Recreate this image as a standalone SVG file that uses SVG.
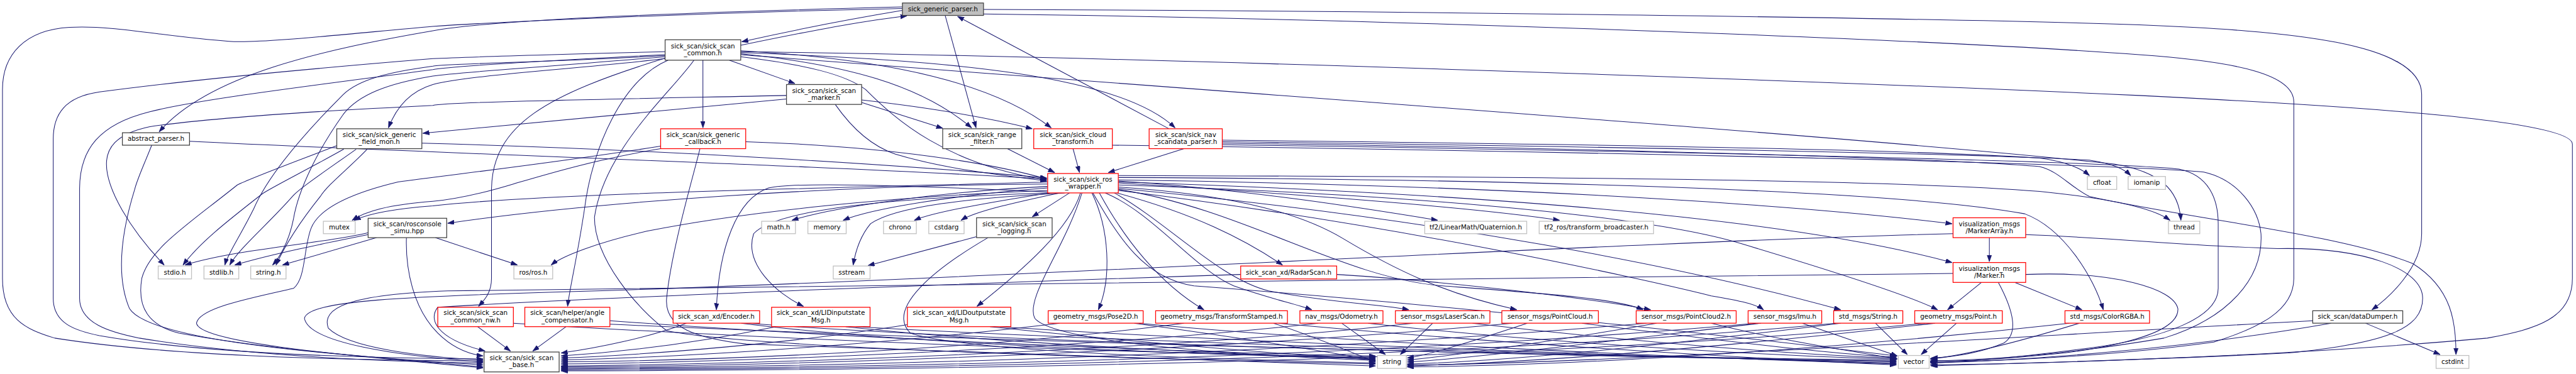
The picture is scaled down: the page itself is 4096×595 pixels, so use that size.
<svg xmlns="http://www.w3.org/2000/svg" width="4096" height="595" viewBox="0 0 4096 595">
<defs>
<style>
.e{fill:none;stroke:#191970;stroke-width:1.3;marker-end:url(#a)}
.k{fill:#fff;stroke:#404040;stroke-width:1.6}
.r{fill:#fff;stroke:#ff0000;stroke-width:1.6}
.g{fill:#fff;stroke:#bfbfbf;stroke-width:1.6}
.p{fill:#bfbfbf;stroke:#404040;stroke-width:1.6}
text{font-family:"DejaVu Sans",sans-serif;font-size:13.1px;text-anchor:middle;fill:#000}
</style>
<marker id="a" markerWidth="14" markerHeight="10" refX="13" refY="4.5" orient="auto" markerUnits="userSpaceOnUse"><path d="M0,0 L13,4.5 L0,9 z" fill="#191970" stroke="#191970" stroke-width="1"/></marker>
</defs>
<rect width="4096" height="595" fill="#fff"/>
<g transform="scale(0.791)">
<g id="connectors">
<path class="e" d="M1814,21 C1700,40 1580,64 1491,84"/>
<path class="e" d="M1489,91 C1600,68 1720,44 1823,32"/>
<path class="e" d="M1814,14 C1400,24 1000,38 870,62 C650,100 420,150 320,265"/>
<path class="e" d="M1814,17 C1400,26 1000,44 870,53 C700,68 520,88 460,83 C330,74 230,50 140,55 C50,60 5,110 5,180 L5,560 C5,640 50,662 110,680 C350,718 700,724 971,726"/>
<path class="e" d="M1900,31 L1962,257"/>
<path class="e" d="M2350,259 L1925,33"/>
<path class="e" d="M1977,19 C2800,22 3900,36 4300,50 C4600,62 4868,85 4868,190 L4868,470 C4868,540 4800,600 4768,623"/>
<path class="e" d="M1977,28 C2800,38 3900,80 4300,110 C4500,124 4611,150 4611,205 L4611,560 C4611,625 4540,660 4450,688 C4250,716 4000,728 3880,728"/>
<path class="e" d="M1489,104 C2200,112 3600,160 4300,192 C4700,212 5171,240 5171,290 L5171,560 C5171,640 5100,662 5000,680 C4600,716 4100,732 3880,734"/>
<path class="e" d="M1413,121 L1413,257"/>
<path class="e" d="M1466,121 L1598,168"/>
<path class="e" d="M1337,118 C1150,140 950,150 870,170 C820,185 795,220 781,257"/>
<path class="e" d="M1337,104 C1100,110 950,114 870,118 C600,140 350,165 200,185 C130,195 107,230 107,280 L107,600 C107,650 150,665 200,675 C400,710 700,720 971,722"/>
<path class="e" d="M1337,110 C1100,122 900,134 870,140 C600,176 400,200 300,225 C200,250 160,300 160,380 L160,600 C160,650 220,668 280,680 C500,716 750,727 971,730"/>
<path class="e" d="M1337,112 C1100,125 900,128 870,133 C780,145 721,160 690,190 C620,260 540,350 510,420 C480,480 458,510 452,533"/>
<path class="e" d="M1337,114 C1100,135 920,145 870,153 C780,168 721,190 690,230 C640,300 600,380 590,440 C580,490 560,520 548,533"/>
<path class="e" d="M1337,117 C1100,190 990,250 988,380 L988,560 C988,590 972,605 962,616"/>
<path class="e" d="M1343,121 C1250,160 1190,300 1175,420 C1160,520 1145,580 1141,616"/>
<path class="e" d="M1489,108 C1700,130 1850,170 1953,257"/>
<path class="e" d="M1489,102 C1800,120 2000,170 2113,257"/>
<path class="e" d="M1489,106 C1900,120 2250,150 2362,257"/>
<path class="e" d="M1489,114 C1620,130 1700,150 1740,180 C1800,240 1900,330 2104,362"/>
<path class="e" d="M1395,121 C1348,187 1215,300 1195,437 C1195,520 1280,620 1340,665 C1500,700 2300,722 2765,732"/>
<path class="e" d="M1489,110 C2400,180 3800,280 4250,330 C4340,345 4380,380 4384,443"/>
<path class="e" d="M1581,199 L850,268"/>
<path class="e" d="M1581,192 C1200,200 900,205 870,212 C600,225 400,240 300,255 C230,270 214,300 214,330 C214,380 260,460 330,533"/>
<path class="e" d="M1732,206 L1895,258"/>
<path class="e" d="M1732,201 C1900,220 2000,240 2075,259"/>
<path class="e" d="M1679,210 C1700,240 1740,290 1800,310 C1900,340 2000,350 2104,364"/>
<path class="e" d="M381,284 C900,310 1600,330 2104,360"/>
<path class="e" d="M305,292 C290,330 276,360 271,380 C240,480 235,560 260,620 C290,670 500,705 971,734"/>
<path class="e" d="M848,288 C1300,300 1800,330 2104,358"/>
<path class="e" d="M677,293 C580,330 500,360 477,372 C380,450 300,500 285,560 C275,620 300,655 360,670 C550,705 800,722 971,738"/>
<path class="e" d="M691,300 C620,340 540,380 527,390 C450,450 400,490 368,533"/>
<path class="e" d="M716,300 C660,340 600,380 588,395 C540,450 480,500 462,533"/>
<path class="e" d="M738,300 C700,340 660,370 644,395 C600,450 570,500 555,533"/>
<path class="e" d="M1499,285 C1800,295 2000,330 2104,360"/>
<path class="e" d="M1328,299 C1200,320 1100,350 1032,370 C950,395 900,402 870,405 C780,412 735,425 708,443"/>
<path class="e" d="M1328,294 C1100,330 900,352 800,366 C700,390 640,420 625,460 C610,500 615,560 590,580 C500,600 400,620 395,650 C400,690 700,715 971,740"/>
<path class="e" d="M1407,299 C1395,350 1350,500 1340,600 C1335,660 1400,680 1500,692 C2000,712 2500,724 2765,736"/>
<path class="e" d="M740,468 C650,490 480,500 372,533"/>
<path class="e" d="M740,472 C650,490 550,510 472,533"/>
<path class="e" d="M757,478 L568,533"/>
<path class="e" d="M875,478 L1040,533"/>
<path class="e" d="M817,478 C815,540 830,620 880,670 C910,700 940,712 971,716"/>
<path class="e" d="M2106,366 C1700,378 1100,388 870,414 C790,420 740,430 712,443"/>
<path class="e" d="M2106,370 C1700,372 1200,405 900,449"/>
<path class="e" d="M2106,375 C1900,385 1680,415 1592,443"/>
<path class="e" d="M2106,378 C1920,392 1750,420 1695,443"/>
<path class="e" d="M2110,388 C2000,405 1880,425 1838,443"/>
<path class="e" d="M2130,388 C2050,405 1960,425 1932,443"/>
<path class="e" d="M2150,388 L2075,436"/>
<path class="e" d="M2140,388 C1950,398 1800,415 1750,450 C1725,480 1718,515 1715,533"/>
<path class="e" d="M1963,476 L1745,534"/>
<path class="e" d="M2106,383 C1800,395 1500,425 1300,465 C1200,488 1130,515 1108,533"/>
<path class="e" d="M2106,386 C1800,372 1600,366 1545,378 C1480,400 1445,500 1440,623"/>
<path class="e" d="M2106,388 C1800,398 1560,420 1515,470 C1495,530 1560,590 1615,616"/>
<path class="e" d="M2172,388 C2150,460 2060,540 1964,616"/>
<path class="e" d="M2195,388 C2230,460 2235,560 2208,623"/>
<path class="e" d="M2210,388 C2260,480 2330,570 2420,623"/>
<path class="e" d="M2245,388 C2400,430 2500,480 2578,533"/>
<path class="e" d="M2222,388 C2320,430 2400,540 2480,575 C2550,600 2600,610 2637,623"/>
<path class="e" d="M2240,388 C2350,450 2450,560 2550,585 C2680,610 2780,612 2832,623"/>
<path class="e" d="M2248,376 C2450,390 2600,420 2700,480 C2800,540 2900,590 3049,623"/>
<path class="e" d="M2248,381 C2500,420 2700,560 2900,575 C3100,590 3250,600 3303,623"/>
<path class="e" d="M2687,552 C2900,565 3200,600 3318,623"/>
<path class="e" d="M2248,383 C2800,450 3300,560 3440,595 C3500,605 3530,612 3545,623"/>
<path class="e" d="M2248,379 C2900,440 3400,540 3700,623"/>
<path class="e" d="M2248,372 C2800,390 3300,430 3500,490 C3700,550 3850,600 3895,623"/>
<path class="e" d="M2248,362 C3000,372 3600,410 3924,450"/>
<path class="e" d="M2248,366 C3000,390 3600,440 3924,528"/>
<path class="e" d="M2248,364 C2500,380 2750,420 2890,443"/>
<path class="e" d="M2248,368 C2600,390 2950,415 3135,443"/>
<path class="e" d="M2248,357 C3000,360 3800,380 4070,430 C4150,460 4210,560 4228,623"/>
<path class="e" d="M2248,353 C3000,355 3800,360 4100,385 C4250,400 4330,420 4362,443"/>
<path class="e" d="M2175,388 C2140,500 2060,600 2080,640 C2120,690 2500,715 2765,725"/>
<path class="e" d="M2197,388 C2250,480 2300,560 2400,575 C3000,620 3600,690 3812,716"/>
<path class="e" d="M3999,478 L3999,526"/>
<path class="e" d="M3983,568 L3915,623"/>
<path class="e" d="M4050,568 L4185,623"/>
<path class="e" d="M4017,568 C4045,620 4060,670 4028,690 C3980,710 3930,718 3882,720"/>
<path class="e" d="M3926,470 C3300,485 2000,560 1200,585 C800,596 620,605 612,640 C620,690 800,716 971,728"/>
<path class="e" d="M3926,550 C3000,562 1500,574 900,585 C700,592 645,620 660,660 C700,700 850,718 971,724"/>
<path class="e" d="M4072,472 C4250,478 4400,495 4580,500 C4750,497 4870,540 4870,600 C4870,660 4800,690 4600,710 C4300,725 4000,732 3882,736"/>
<path class="e" d="M4072,552 C4250,545 4370,580 4378,621 C4380,660 4300,690 4150,710 C4000,725 3930,728 3882,724"/>
<path class="e" d="M1380,650 C1300,680 1200,700 1128,710"/>
<path class="e" d="M1490,650 C1800,690 2400,714 2765,720"/>
<path class="e" d="M1505,650 C2000,690 3200,718 3812,726"/>
<path class="e" d="M1560,657 C1400,690 1250,708 1128,716"/>
<path class="e" d="M1700,657 C2000,690 2500,714 2765,722"/>
<path class="e" d="M1720,657 C2300,690 3300,718 3812,728"/>
<path class="e" d="M1830,652 C1600,690 1300,714 1128,720"/>
<path class="e" d="M1990,657 C2300,690 2600,714 2765,724"/>
<path class="e" d="M2010,657 C2500,690 3400,720 3812,730"/>
<path class="e" d="M2130,650 C1800,690 1400,718 1128,724"/>
<path class="e" d="M2280,650 C2500,680 2700,712 2765,726"/>
<path class="e" d="M2290,650 C2700,690 3400,720 3812,732"/>
<path class="e" d="M2380,650 C2000,700 1500,724 1128,728"/>
<path class="e" d="M2560,650 C2650,680 2720,710 2765,728"/>
<path class="e" d="M2570,650 C3000,690 3500,720 3812,734"/>
<path class="e" d="M2697,650 L2785,713"/>
<path class="e" d="M2650,650 C2200,700 1500,728 1128,732"/>
<path class="e" d="M2750,650 C3100,690 3600,718 3812,722"/>
<path class="e" d="M2880,650 L2815,713"/>
<path class="e" d="M2840,650 C2400,700 1600,732 1128,736"/>
<path class="e" d="M2960,650 C3300,690 3650,716 3812,720"/>
<path class="e" d="M3070,650 C2950,690 2870,714 2829,720"/>
<path class="e" d="M3040,650 C2500,700 1700,735 1128,738"/>
<path class="e" d="M3180,650 C3500,690 3700,714 3812,718"/>
<path class="e" d="M3330,650 C3100,690 2900,718 2829,724"/>
<path class="e" d="M3310,650 C2600,710 1800,738 1128,740"/>
<path class="e" d="M3440,650 C3600,690 3750,710 3814,722"/>
<path class="e" d="M3623,650 L3814,716"/>
<path class="e" d="M3540,650 C3200,690 2950,722 2829,728"/>
<path class="e" d="M3530,650 C2800,715 1900,740 1128,742"/>
<path class="e" d="M3770,650 L3834,713"/>
<path class="e" d="M3700,650 C3300,700 3000,728 2829,732"/>
<path class="e" d="M3690,650 C3000,716 2000,742 1128,744"/>
<path class="e" d="M3933,650 L3862,713"/>
<path class="e" d="M3890,650 C3400,705 3050,730 2829,736"/>
<path class="e" d="M3870,650 C3200,718 2100,744 1128,746"/>
<path class="e" d="M4180,650 C4050,690 3950,715 3880,722"/>
<path class="e" d="M4160,650 C3600,712 3100,736 2829,738"/>
<path class="e" d="M2494,552 C2000,568 1200,598 880,618 C862,640 872,680 975,706"/>
<path class="e" d="M960,657 L1026,706"/>
<path class="e" d="M1138,657 L1071,706"/>
<path class="e" d="M1032,650 C1500,680 2300,712 2765,718"/>
<path class="e" d="M1226,645 C1700,680 2400,710 2765,716"/>
<path class="e" d="M1226,652 C2000,688 3200,718 3812,724"/>
<path class="e" d="M4755,650 L4905,713"/>
<path class="e" d="M4686,650 C4400,700 4100,724 3880,730"/>
<path class="e" d="M4649,645 C4000,680 3200,732 2829,734"/>
<path class="e" d="M2457,288 C3200,298 3900,318 4100,335 C4140,345 4160,375 4200,395 C4400,440 4700,470 4850,530 C4930,580 4937,650 4937,713"/>
<path class="e" d="M2457,282 C3000,288 3800,298 4100,318 C4160,326 4185,340 4200,353"/>
<path class="e" d="M2457,285 C3000,292 3900,306 4200,322 C4250,330 4270,340 4283,353"/>
<path class="e" d="M2457,291 C3200,302 4200,322 4380,340 C4440,352 4459,400 4459,450 L4459,580 C4459,640 4350,680 4200,700 C4050,720 3950,728 3880,730"/>
<path class="e" d="M2236,292 C3000,302 4200,326 4430,346 C4500,362 4540,420 4545,470 C4550,560 4480,640 4350,680 C4150,714 4000,724 3880,726"/>
<path class="e" d="M2380,299 L2228,347"/>
<path class="e" d="M2157,299 L2170,347"/>
<path class="e" d="M2025,299 L2120,347"/>
<path class="e" d="M1986,478 C1880,540 1780,620 1830,670 C1950,710 2500,724 2765,730"/>
</g>
<g id="nodes">
<g id="n_parser"><rect class="p" x="1814" y="6" width="163" height="25"/><text x="1895.5" y="22.5">sick_generic_parser.h</text></g>
<g id="n_common"><rect class="k" x="1337" y="80" width="152" height="41"/><text x="1413" y="97">sick_scan/sick_scan</text><text x="1413" y="111">_common.h</text></g>
<g id="n_abstract"><rect class="k" x="246" y="267" width="135" height="25"/><text x="313.5" y="283.5">abstract_parser.h</text></g>
<g id="n_fieldmon"><rect class="k" x="677" y="259" width="171" height="40"/><text x="762.5" y="275.5">sick_scan/sick_generic</text><text x="762.5" y="289.5">_field_mon.h</text></g>
<g id="n_marker"><rect class="k" x="1581" y="170" width="151" height="40"/><text x="1656.5" y="186.5">sick_scan/sick_scan</text><text x="1656.5" y="200.5">_marker.h</text></g>
<g id="n_callback"><rect class="r" x="1328" y="259" width="171" height="40"/><text x="1413.5" y="275.5">sick_scan/sick_generic</text><text x="1413.5" y="289.5">_callback.h</text></g>
<g id="n_range"><rect class="k" x="1895" y="259" width="159" height="40"/><text x="1974.5" y="275.5">sick_scan/sick_range</text><text x="1974.5" y="289.5">_filter.h</text></g>
<g id="n_cloud"><rect class="r" x="2078" y="259" width="158" height="40"/><text x="2157" y="275.5">sick_scan/sick_cloud</text><text x="2157" y="289.5">_transform.h</text></g>
<g id="n_nav"><rect class="r" x="2310" y="259" width="147" height="40"/><text x="2383.5" y="275.5">sick_scan/sick_nav</text><text x="2383.5" y="289.5">_scandata_parser.h</text></g>
<g id="n_roswrap"><rect class="r" x="2106" y="349" width="142" height="39"/><text x="2177" y="365">sick_scan/sick_ros</text><text x="2177" y="379">_wrapper.h</text></g>
<g id="n_cfloat"><rect class="g" x="4196" y="355" width="59" height="26"/><text x="4225.5" y="372">cfloat</text></g>
<g id="n_iomanip"><rect class="g" x="4278" y="355" width="75" height="26"/><text x="4315.5" y="372">iomanip</text></g>
<g id="n_thread"><rect class="g" x="4359" y="445" width="63" height="25"/><text x="4390.5" y="461.5">thread</text></g>
<g id="n_mutex"><rect class="g" x="650" y="445" width="64" height="25"/><text x="682" y="461.5">mutex</text></g>
<g id="n_rosconsole"><rect class="k" x="740" y="439" width="158" height="39"/><text x="819" y="455">sick_scan/rosconsole</text><text x="819" y="469">_simu.hpp</text></g>
<g id="n_math"><rect class="g" x="1531" y="445" width="68" height="25"/><text x="1565" y="461.5">math.h</text></g>
<g id="n_memory"><rect class="g" x="1624" y="445" width="77" height="25"/><text x="1662.5" y="461.5">memory</text></g>
<g id="n_chrono"><rect class="g" x="1776" y="445" width="66" height="25"/><text x="1809" y="461.5">chrono</text></g>
<g id="n_cstdarg"><rect class="g" x="1867" y="445" width="71" height="25"/><text x="1902.5" y="461.5">cstdarg</text></g>
<g id="n_logging"><rect class="k" x="1963" y="438" width="152" height="40"/><text x="2039" y="454.5">sick_scan/sick_scan</text><text x="2039" y="468.5">_logging.h</text></g>
<g id="n_quat"><rect class="g" x="2864" y="445" width="205" height="25"/><text x="2966.5" y="461.5">tf2/LinearMath/Quaternion.h</text></g>
<g id="n_tfb"><rect class="g" x="3094" y="445" width="230" height="25"/><text x="3209" y="461.5">tf2_ros/transform_broadcaster.h</text></g>
<g id="n_markerarray"><rect class="r" x="3926" y="438" width="146" height="40"/><text x="3999" y="454.5">visualization_msgs</text><text x="3999" y="468.5">/MarkerArray.h</text></g>
<g id="n_stdio"><rect class="g" x="318" y="535" width="67" height="26"/><text x="351.5" y="552">stdio.h</text></g>
<g id="n_stdlib"><rect class="g" x="410" y="535" width="70" height="26"/><text x="445" y="552">stdlib.h</text></g>
<g id="n_stringh"><rect class="g" x="504" y="535" width="71" height="26"/><text x="539.5" y="552">string.h</text></g>
<g id="n_ros"><rect class="g" x="1033" y="535" width="78" height="26"/><text x="1072" y="552">ros/ros.h</text></g>
<g id="n_sstream"><rect class="g" x="1675" y="535" width="74" height="26"/><text x="1712" y="552">sstream</text></g>
<g id="n_radar"><rect class="r" x="2494" y="535" width="193" height="26"/><text x="2590.5" y="552">sick_scan_xd/RadarScan.h</text></g>
<g id="n_markerh"><rect class="r" x="3926" y="528" width="146" height="40"/><text x="3999" y="544.5">visualization_msgs</text><text x="3999" y="558.5">/Marker.h</text></g>
<g id="n_commonnw"><rect class="r" x="880" y="618" width="152" height="39"/><text x="956" y="634">sick_scan/sick_scan</text><text x="956" y="648">_common_nw.h</text></g>
<g id="n_anglecomp"><rect class="r" x="1055" y="618" width="171" height="39"/><text x="1140.5" y="634">sick_scan/helper/angle</text><text x="1140.5" y="648">_compensator.h</text></g>
<g id="n_encoder"><rect class="r" x="1353" y="625" width="174" height="25"/><text x="1440" y="641.5">sick_scan_xd/Encoder.h</text></g>
<g id="n_lidin"><rect class="r" x="1551" y="618" width="198" height="39"/><text x="1650" y="634">sick_scan_xd/LIDinputstate</text><text x="1650" y="648">Msg.h</text></g>
<g id="n_lidout"><rect class="r" x="1824" y="618" width="208" height="39"/><text x="1928" y="634">sick_scan_xd/LIDoutputstate</text><text x="1928" y="648">Msg.h</text></g>
<g id="n_pose2d"><rect class="r" x="2107" y="625" width="191" height="25"/><text x="2202.5" y="641.5">geometry_msgs/Pose2D.h</text></g>
<g id="n_tfstamped"><rect class="r" x="2323" y="625" width="265" height="25"/><text x="2455.5" y="641.5">geometry_msgs/TransformStamped.h</text></g>
<g id="n_odom"><rect class="r" x="2613" y="625" width="167" height="25"/><text x="2696.5" y="641.5">nav_msgs/Odometry.h</text></g>
<g id="n_laserscan"><rect class="r" x="2805" y="625" width="190" height="25"/><text x="2900" y="641.5">sensor_msgs/LaserScan.h</text></g>
<g id="n_pc"><rect class="r" x="3019" y="625" width="194" height="25"/><text x="3116" y="641.5">sensor_msgs/PointCloud.h</text></g>
<g id="n_pc2"><rect class="r" x="3289" y="625" width="201" height="25"/><text x="3389.5" y="641.5">sensor_msgs/PointCloud2.h</text></g>
<g id="n_imu"><rect class="r" x="3514" y="625" width="148" height="25"/><text x="3588" y="641.5">sensor_msgs/Imu.h</text></g>
<g id="n_stdstring"><rect class="r" x="3686" y="625" width="139" height="25"/><text x="3755.5" y="641.5">std_msgs/String.h</text></g>
<g id="n_point"><rect class="r" x="3849" y="625" width="176" height="25"/><text x="3937" y="641.5">geometry_msgs/Point.h</text></g>
<g id="n_rgba"><rect class="r" x="4151" y="625" width="170" height="25"/><text x="4236" y="641.5">std_msgs/ColorRGBA.h</text></g>
<g id="n_datadumper"><rect class="k" x="4649" y="625" width="181" height="25"/><text x="4739.5" y="641.5">sick_scan/dataDumper.h</text></g>
<g id="n_base"><rect class="k" x="973" y="708" width="151" height="40"/><text x="1048.5" y="724.5">sick_scan/sick_scan</text><text x="1048.5" y="738.5">_base.h</text></g>
<g id="n_string"><rect class="g" x="2769" y="715" width="58" height="26"/><text x="2798" y="732">string</text></g>
<g id="n_vector"><rect class="g" x="3816" y="715" width="62" height="26"/><text x="3847" y="732">vector</text></g>
<g id="n_cstdint"><rect class="g" x="4897" y="715" width="66" height="26"/><text x="4930" y="732">cstdint</text></g>
</g>
</g>
</svg>
